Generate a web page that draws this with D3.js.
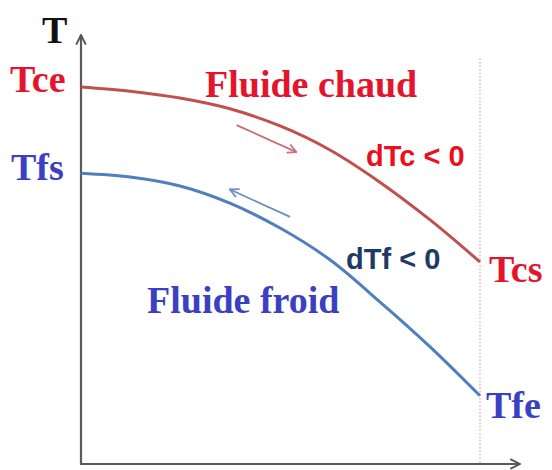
<!DOCTYPE html>
<html><head><meta charset="utf-8">
<script src="https://cdn.jsdelivr.net/npm/d3@7"></script>
<style>html,body{margin:0;padding:0;background:#fff;}svg{display:block;}</style>
</head><body>
<svg id="c" width="552" height="470"></svg>
<script>
// Data (arbitrary units: position 0..100, temperature 0..100)
const posX = [0, 12.3, 24.8, 37.3, 49.9, 62.4, 74.9, 87.5, 100];
const hotT = [87.9, 86.9, 85.3, 82.8, 78.8, 73.2, 65.7, 56.9, 47.1];
const coldT = [67.8, 66.9, 64.8, 60.8, 55.0, 47.6, 37.8, 27.3, 15.9];
const labels = {T:"T", tce:"Tce", tfs:"Tfs", tcs:"Tcs", tfe:"Tfe",
  hot:"Fluide chaud", cold:"Fluide froid", dtc:"dTc < 0", dtf:"dTf < 0"};

const svg = d3.select("#c");
const x = d3.scaleLinear().domain([0, 100]).range([81, 480]);
const y = d3.scaleLinear().domain([0, 100]).range([464, 35]);

const defs = svg.append("defs");
function marker(id, color, size) {
  defs.append("marker").attr("id", id).attr("viewBox", "0 0 10 10")
    .attr("refX", 9).attr("refY", 5).attr("markerWidth", size).attr("markerHeight", size)
    .attr("markerUnits", "userSpaceOnUse").attr("orient", "auto")
    .append("path").attr("d", "M1,1 L9,5 L1,9").attr("fill", "none")
    .attr("stroke", color).attr("stroke-width", 1.6);
}
marker("axArrow", "#555", 12);
marker("redArrow", "#c9707a", 11);
marker("blueArrow", "#6f8fc0", 11);

// dotted vertical at exit
svg.append("line").attr("x1", x(100)).attr("x2", x(100)).attr("y1", y(94.5)).attr("y2", y(0))
  .attr("stroke", "#ee9aa6").attr("stroke-width", 1.2).attr("stroke-dasharray", "1.5,2");

// axes
svg.append("line").attr("x1", x(0)).attr("x2", x(0)).attr("y1", y(0)).attr("y2", y(100))
  .attr("stroke", "#5a5a5a").attr("stroke-width", 2.2).attr("marker-end", "url(#axArrow)");
svg.append("line").attr("x1", x(0) - 1).attr("x2", x(110)).attr("y1", y(0)).attr("y2", y(0))
  .attr("stroke", "#5a5a5a").attr("stroke-width", 2.2).attr("marker-end", "url(#axArrow)");

const line = d3.line().x(d => x(d[0])).y(d => y(d[1])).curve(d3.curveCatmullRom);
svg.append("path").datum(d3.zip(posX, hotT)).attr("d", line)
  .attr("fill", "none").attr("stroke", "#c0504d").attr("stroke-width", 3);
svg.append("path").datum(d3.zip(posX, coldT)).attr("d", line)
  .attr("fill", "none").attr("stroke", "#4f7fbf").attr("stroke-width", 3);

// flow direction arrows
svg.append("line").attr("x1", x(39)).attr("y1", y(79)).attr("x2", x(54)).attr("y2", y(72.7))
  .attr("stroke", "#c9707a").attr("stroke-width", 1.8).attr("marker-end", "url(#redArrow)");
svg.append("line").attr("x1", x(52.4)).attr("y1", y(57.6)).attr("x2", x(37.3)).attr("y2", y(64))
  .attr("stroke", "#6f8fc0").attr("stroke-width", 1.8).attr("marker-end", "url(#blueArrow)");

// texts
const serif = "'Liberation Serif','Times New Roman',serif";
const sans = "'Liberation Sans',Arial,sans-serif";
function txt(t, px, py, color, font, size, anchor) {
  svg.append("text").attr("x", px).attr("y", py).attr("fill", color)
    .attr("font-family", font).attr("font-weight", "bold").attr("font-size", size)
    .attr("text-anchor", anchor || "start").text(t);
}
txt(labels.T, 42, 43, "#111", serif, 38);
txt(labels.tce, 10, y(hotT[0]) + 5, "#e3142b", serif, 38);
txt(labels.tfs, 11, y(coldT[0]) + 7, "#3b3fc4", serif, 38);
txt(labels.tcs, 489, y(hotT[hotT.length - 1]) + 20, "#e3142b", serif, 38);
txt(labels.tfe, 486, y(coldT[coldT.length - 1]) + 22, "#3b3fc4", serif, 38);
txt(labels.hot, 205, 97, "#e3142b", serif, 38);
txt(labels.cold, 147, 313, "#3b3fc4", serif, 38);
txt(labels.dtc, 366, 166, "#e8101c", sans, 29);
txt(labels.dtf, 346, 269, "#1f3a68", sans, 29);
</script>
</body></html>
